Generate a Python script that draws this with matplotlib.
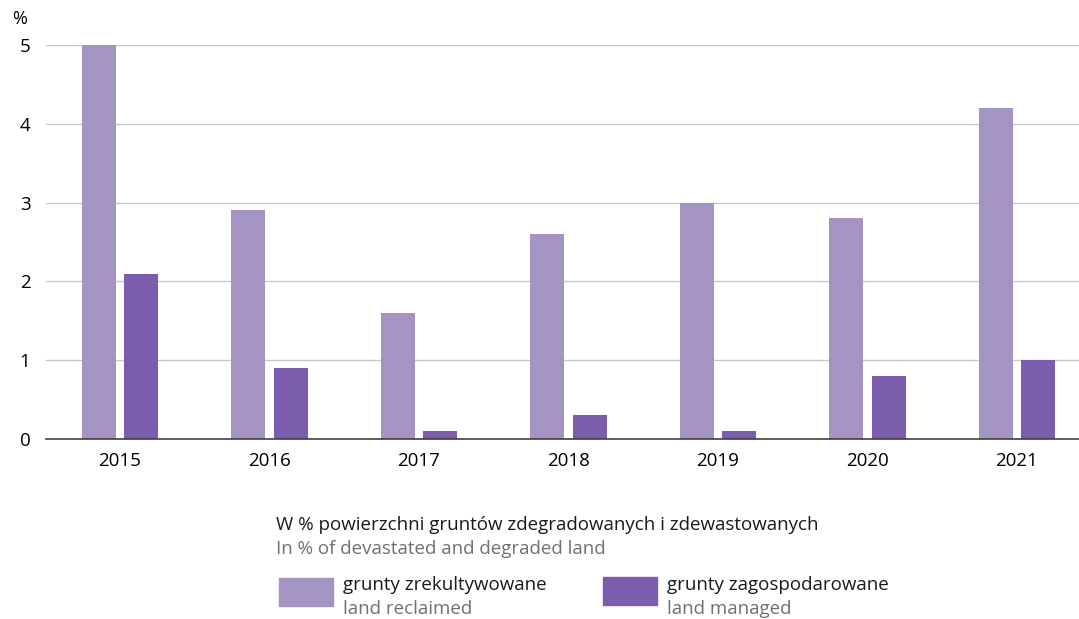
import matplotlib.pyplot as plt
import matplotlib.patches as mpatches
import numpy as np

plt.rcParams['font.family'] = ['Open Sans', 'DejaVu Sans']

years = ['2015', '2016', '2017', '2018', '2019', '2020', '2021']
reclaimed = [5.0, 2.9, 1.6, 2.6, 3.0, 2.8, 4.2]
managed = [2.1, 0.9, 0.1, 0.3, 0.1, 0.8, 1.0]
yticks = [0, 1, 2, 3, 4, 5]

light = '#a394c4'
dark = '#7c5cac'

W, H = 1079, 619
fig = plt.figure(figsize=(W / 100, H / 100), dpi=100)
ax = fig.add_axes([46 / W, 1 - 439 / H, 1 - 46 / W, 394 / H])

x = np.arange(len(years))
bw = 0.227
off = 0.142
ax.bar(x - off, reclaimed, bw, color=light, zorder=3)
ax.bar(x + off, managed, bw, color=dark, zorder=3)

ax.set_xlim(-0.495, 6.415)
ax.set_ylim(0, 5)
ax.set_yticks(yticks)
ax.set_yticklabels([str(t) for t in yticks], fontsize=13.5)
ax.set_xticks(x)
ax.set_xticklabels(years, fontsize=13.5)
ax.tick_params(length=0)
ax.tick_params(axis='y', pad=15)
ax.tick_params(axis='x', pad=9)
for lab in ax.get_yticklabels():
    lab.set_horizontalalignment('center')

ax.grid(axis='y', color='#c8c8c8', linewidth=1, zorder=0)
for s in ['top', 'right', 'left']:
    ax.spines[s].set_visible(False)
ax.spines['bottom'].set_color('#404040')
ax.spines['bottom'].set_linewidth(1.2)
ax.spines['bottom'].set_zorder(4)

fig.text(20 / W, 1 - 19 / H, '%', fontsize=13, ha='center', va='center')

# legend drawn by hand
fig.text(276 / W, 1 - 525 / H, 'W % powierzchni gruntów zdegradowanych i zdewastowanych',
         fontsize=13.5, va='center', color='#1a1a1a')
fig.text(276 / W, 1 - 549 / H, 'In % of devastated and degraded land',
         fontsize=13.5, va='center', color='#707070')

fig.patches.append(mpatches.Rectangle((279 / W, 1 - 606 / H), 54 / W, 28 / H,
                                      transform=fig.transFigure, color=light))
fig.patches.append(mpatches.Rectangle((603 / W, 1 - 605 / H), 54 / W, 28 / H,
                                      transform=fig.transFigure, color=dark))
fig.text(343 / W, 1 - 585 / H, 'grunty zrekultywowane', fontsize=13.5, va='center', color='#1a1a1a')
fig.text(343 / W, 1 - 609 / H, 'land reclaimed', fontsize=13.5, va='center', color='#707070')
fig.text(667 / W, 1 - 585 / H, 'grunty zagospodarowane', fontsize=13.5, va='center', color='#1a1a1a')
fig.text(667 / W, 1 - 609 / H, 'land managed', fontsize=13.5, va='center', color='#707070')

fig.savefig('out.png', dpi=100)
